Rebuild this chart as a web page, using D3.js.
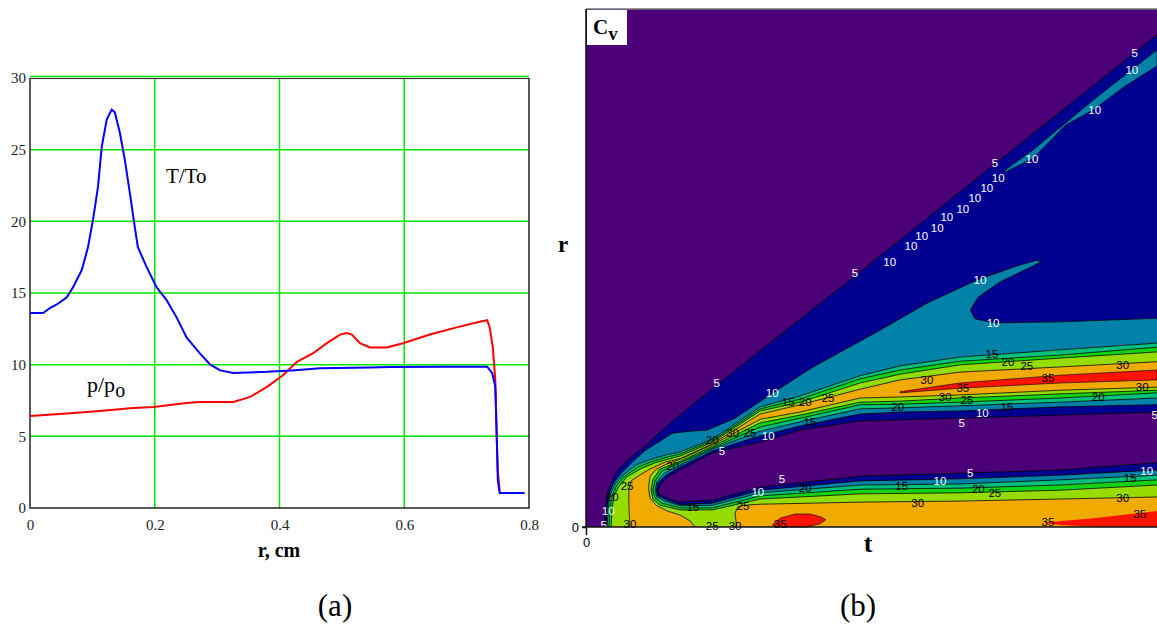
<!DOCTYPE html>
<html><head><meta charset="utf-8">
<script src="https://cdn.jsdelivr.net/npm/d3@7"></script>
<style>body{margin:0;background:#fff}svg{display:block}</style>
</head><body>
<svg id="c" width="1157" height="626"></svg>
<script>
// ================= Panel (a) data =================
const tempProfile = [[0,13.6],[0.021,13.6],[0.032,13.95],[0.043,14.2],[0.059,14.7],[0.069,15.4],[0.083,16.6],[0.093,18.2],[0.101,20.1],[0.109,22.4],[0.115,25.2],[0.123,27.1],[0.131,27.8],[0.136,27.6],[0.144,26.2],[0.152,24.3],[0.160,22.0],[0.168,19.6],[0.173,18.2],[0.187,16.8],[0.203,15.4],[0.219,14.5],[0.235,13.3],[0.251,11.9],[0.272,10.8],[0.289,10.0],[0.305,9.6],[0.326,9.42],[0.38,9.5],[0.42,9.6],[0.465,9.75],[0.545,9.8],[0.577,9.84],[0.662,9.86],[0.733,9.86],[0.741,9.4],[0.746,8.45],[0.748,5.4],[0.750,1.95],[0.753,1.05],[0.793,1.05]];
const presProfile = [[0,6.42],[0.059,6.6],[0.112,6.77],[0.165,6.97],[0.198,7.05],[0.251,7.33],[0.272,7.4],[0.326,7.4],[0.353,7.75],[0.38,8.45],[0.406,9.28],[0.428,10.2],[0.454,10.8],[0.476,11.5],[0.497,12.1],[0.508,12.2],[0.516,12.1],[0.529,11.5],[0.545,11.2],[0.572,11.2],[0.598,11.5],[0.641,12.1],[0.684,12.6],[0.721,13.0],[0.733,13.1],[0.737,12.6],[0.742,11.2],[0.746,8.9],[0.748,5.4],[0.750,2.6],[0.753,1.2]];
const yTicksA = [0,5,10,15,20,25,30];
const xTicksA = [0,0.2,0.4,0.6,0.8];

// ================= Panel (b) data: contour lines in (t, r) =================
const shock5 = [[3.2,0],[3.3,3.3],[3.7,6.2],[4.4,8.5],[5.4,10.8],[7.4,13.1],[10.3,15.6],[15.2,20.5],[22.9,27.4],[31.7,35.1],[47.5,48.8],[71.6,70.1],[100,95.0]];
const outer10 = [[3.5,0],[3.7,3.7],[4.0,6.2],[4.7,8.3],[6.0,10.2],[8.1,12.5],[10.3,14.7],[13.0,16.6],[15.1,18.1],[18.2,18.5],[21.2,18.7],[26.1,21.0],[32.2,25.5],[37.5,29.3],[39.8,30.9],[51.5,38.0],[59.7,43.2],[68.5,47.7],[76.0,50.6],[79.0,51.5],[79.7,51.2],[78.3,50.4],[72.5,47.3],[68.7,44.4],[67.3,41.9],[68.1,40.2],[71.6,39.4],[83.0,39.6],[100,40.3]];
const outer15 = [[3.7,0],[3.9,3.7],[4.2,6.2],[5.1,8.3],[6.5,10.0],[8.8,12.0],[11.4,13.1],[14.0,13.9],[16.5,14.5],[22.2,17.0],[30.5,23.2],[37.5,25.3],[48.0,29.2],[55.0,31.1],[65.5,32.8],[83.0,34.2],[100,35.5]];
const outer20 = [[4.0,0],[4.2,3.7],[4.6,6.0],[5.4,8.1],[6.8,9.8],[9.1,11.6],[11.7,12.7],[14.2,13.5],[16.5,14.1],[22.2,16.7],[30.5,22.8],[37.5,24.7],[48.0,28.6],[55.0,30.3],[65.5,32.0],[83.0,33.2],[100,34.7]];
const outer25 = [[4.4,0],[4.6,3.7],[4.9,6.0],[5.8,7.9],[7.2,9.7],[9.5,11.2],[12.1,12.4],[14.4,13.1],[16.5,13.7],[22.2,16.4],[30.5,22.4],[37.5,24.1],[48.0,27.8],[55.0,29.5],[65.5,31.3],[83.0,32.6],[100,33.8]];
const outer30 = [[7.7,0],[7.5,4.2],[7.5,7.1],[7.9,8.9],[9.1,9.8],[11.2,11.2],[13.8,12.5],[16.5,13.2],[22.2,16.1],[30.5,21.8],[37.5,23.6],[48.0,26.6],[55.0,28.4],[65.5,29.9],[83.0,30.9],[100,31.9]];
const inner30 = [[100,27.0],[83.0,26.4],[65.5,25.5],[55.0,25.1],[48.0,24.9],[37.5,22.2],[30.5,20.8],[22.2,15.9],[16.5,13.1],[13.8,12.0],[12.1,11.0],[11.2,9.7],[11.0,8.1],[11.0,7.1],[11.2,5.6],[12.3,4.2],[14.2,3.1],[16.5,2.3],[18.2,1.2],[19.1,0]];
const inner25 = [[100,26.4],[83.0,25.7],[65.5,24.9],[55.0,24.3],[48.0,24.1],[37.5,21.6],[30.5,20.1],[22.2,15.6],[16.5,12.7],[13.0,11.2],[11.7,9.1],[11.4,7.1],[11.7,5.4],[13.0,4.2],[16.5,3.3],[22.2,3.3],[30.5,5.4],[48.0,6.4],[65.5,6.6],[83.0,7.1],[100,8.1]];
const inner20 = [[100,25.9],[83.0,24.9],[65.5,24.1],[55.0,23.7],[48.0,23.6],[37.5,21.0],[30.5,19.3],[22.2,15.3],[16.5,12.4],[13.3,10.8],[12.1,8.9],[11.7,7.1],[12.1,5.6],[13.3,4.6],[16.5,3.7],[22.2,3.7],[30.5,6.0],[48.0,7.3],[65.5,7.5],[83.0,8.1],[100,9.1]];
const inner15 = [[100,24.9],[83.0,24.1],[65.5,23.4],[55.0,23.0],[48.0,22.8],[37.5,20.3],[30.5,18.5],[22.2,15.1],[16.5,12.0],[13.7,10.4],[12.4,8.7],[12.1,7.1],[12.4,5.8],[13.8,5.0],[16.5,4.1],[22.2,4.2],[30.5,6.6],[48.0,8.1],[65.5,8.3],[83.0,9.1],[100,10.0]];
const inner10 = [[100,23.6],[83.0,23.2],[65.5,22.4],[55.0,22.2],[48.0,21.8],[37.5,19.5],[30.5,17.6],[22.2,14.7],[16.5,11.6],[14.0,10.0],[12.6,8.5],[12.3,7.1],[12.6,6.0],[14.2,5.2],[16.5,4.3],[22.2,4.6],[30.5,7.1],[48.0,8.9],[65.5,9.3],[83.0,10.0],[100,11.0]];
const hole5 = [[100,22.2],[83.0,21.6],[65.5,21.0],[55.0,20.7],[48.0,20.5],[37.5,18.7],[30.5,16.4],[26.4,15.4],[22.2,14.3],[16.5,11.0],[14.4,9.7],[13.1,8.3],[12.6,7.1],[13.0,6.2],[14.7,5.4],[16.5,4.8],[22.2,5.2],[30.5,7.7],[48.0,9.8],[65.5,10.4],[83.0,11.0],[100,12.4]];
const lower30 = [[26.4,0],[26.1,2.7],[26.6,3.9],[27.8,4.2],[30.5,4.4],[48.0,4.8],[65.5,5.0],[83.0,5.4],[100,5.8]];
const redBand = [[55.0,26.1],[65.5,27.8],[83.0,29.3],[100,30.3],[100,28.4],[83.0,27.8],[65.5,26.8],[55.0,25.9]];
const redIsland1 = [[32.6,0.4],[34.0,1.7],[36.6,2.5],[39.2,2.5],[41.3,1.9],[42.0,1.4],[40.9,0.6],[38.4,0],[33.6,0]];
const redIsland2 = [[80.0,0.8],[88.8,1.7],[100,3.1],[100,0],[90.0,0],[83.0,0.4]];
const tealSliver = [[73.4,68.9],[78.3,72.8],[88.8,82.4],[100,92.1],[100,89.0],[94.5,85.2],[88.8,80.5],[84.0,77.6],[78.3,71.2],[73.4,68.5]];

const levelColors = ["#4b0078","#000090","#0082a8","#00c07e","#14d214","#96dc00","#f0aa00","#ff1400"];

const labelText = ["5","5","5","5","10","10","10","10","10","10","10","10","10","10","10","10","10","10","10","10","5","10","5","5","5","10","5","10","10","5","10",
 "15","20","25","15","30","35","30","25","20","15","15","20","25","30","35","30","20","20","25","15","30","20","15","30","35","35","35","25","30","30","25","20","15","25","20","30","25","20"];
const labelPos = [[47.1,49.0],[22.9,27.8],[71.6,70.3],[96.1,91.5],[95.6,88.2],[89.1,80.5],[78.1,71.0],[72.2,67.4],[70.2,65.4],[68.1,63.5],[66.0,61.4],[63.2,59.8],[61.5,57.7],[58.8,56.2],[56.9,54.2],[53.2,51.2],[69.0,47.7],[71.3,39.4],[32.6,25.9],[31.9,17.6],[23.8,14.7],[69.4,22.0],[65.8,20.1],[99.6,21.6],[34.3,9.3],[30.1,6.8],[67.3,10.4],[62.0,8.9],[98.2,10.8],[3.1,0.3],[3.9,3.0],
 [35.4,24.1],[38.4,24.1],[42.4,24.9],[39.2,20.3],[59.7,28.4],[66.0,26.8],[62.9,25.1],[66.7,24.5],[54.6,23.2],[73.7,23.2],[71.1,33.4],[73.9,31.9],[77.2,31.1],[94.0,31.3],[80.9,28.8],[97.4,27.0],[89.7,25.1],[68.7,7.3],[71.6,6.6],[55.3,7.9],[58.1,4.6],[38.4,7.5],[95.3,9.5],[94.0,5.6],[97.0,2.5],[80.9,1.0],[34.0,0.6],[22.1,0.2],[26.1,0.2],[7.7,0.6],[7.2,7.9],[4.6,5.8],[18.7,3.9],[27.5,4.1],[15.2,11.8],[25.7,18.1],[28.7,18.1],[22.1,16.8]];

// ================= Drawing =================
const svg = d3.select("#c");
svg.append("rect").attr("width",1157).attr("height",626).attr("fill","#fff");

// ---------- Panel (a) ----------
const xa = d3.scaleLinear().domain([0,0.8]).range([30,529]);
const ya = d3.scaleLinear().domain([0,30]).range([508,78]);
const ga = svg.append("g");
const green = "#00e600";
ga.selectAll("line.gy").data(yTicksA.filter(d=>d>0)).join("line")
  .attr("x1",xa(0)).attr("x2",xa(0.8)).attr("y1",d=>ya(d)-(d===30?1.5:0)).attr("y2",d=>ya(d)-(d===30?1.5:0))
  .attr("stroke",green).attr("stroke-width",1.5);
ga.selectAll("line.gx").data(xTicksA.filter(d=>d>0&&d<0.8)).join("line")
  .attr("x1",d=>xa(d)).attr("x2",d=>xa(d)).attr("y1",ya(0)).attr("y2",ya(30))
  .attr("stroke",green).attr("stroke-width",1.5);
ga.append("path").attr("d",`M${xa(0)},${ya(30)}V${ya(0)}H${xa(0.8)}V${ya(30)}`)
  .attr("fill","none").attr("stroke","#222").attr("stroke-width",1.5);
ga.append("line").attr("x1",xa(0)).attr("x2",xa(0.8)).attr("y1",ya(30)+0.5).attr("y2",ya(30)+0.5).attr("stroke","#333").attr("stroke-width",1.2);

const lineA = d3.line().x(d=>xa(d[0])).y(d=>ya(d[1]));
ga.append("path").datum(presProfile).attr("d",lineA).attr("fill","none").attr("stroke","#ff0000").attr("stroke-width",2);
ga.append("path").datum(tempProfile).attr("d",lineA).attr("fill","none").attr("stroke","#0000ff").attr("stroke-width",2);

const axA = ga.append("g").attr("transform",`translate(${xa(0)},0)`)
  .call(d3.axisLeft(ya).tickValues(yTicksA).tickSize(0).tickPadding(4));
const axB = ga.append("g").attr("transform",`translate(0,${ya(0)})`)
  .call(d3.axisBottom(xa).tickValues(xTicksA).tickSize(0).tickPadding(11).tickFormat(d=>d===0?"0":d3.format(".1f")(d)));
[axA,axB].forEach(a=>{a.select(".domain").remove();a.selectAll("text").attr("font-family","Liberation Serif").attr("font-size",15).attr("fill","#222");});

ga.append("text").attr("x",279).attr("y",557).attr("text-anchor","middle").attr("font-family","Liberation Serif").attr("font-weight","bold").attr("font-size",20).text("r, cm");
ga.append("text").attr("x",166).attr("y",183).attr("font-family","Liberation Serif").attr("font-size",21).text("T/To");
const pl = ga.append("text").attr("x",87).attr("y",392).attr("font-family","Liberation Serif").attr("font-size",22);
pl.append("tspan").text("p/p");
pl.append("tspan").attr("dy",5).attr("font-size",20).text("o");

// ---------- Panel (b) ----------
const X = d3.scaleLinear().domain([0,100]).range([586,1157]);
const Y = d3.scaleLinear().domain([0,100]).range([527,9]);
const gb = svg.append("g");
const lineB = d3.line().x(d=>X(d[0])).y(d=>Y(d[1]));
function region(outer, inner){
  let pts = outer.concat(inner);
  const last = pts[pts.length-1];
  if (last[1] !== 0) pts.push([100,0]);
  return pts;
}
gb.append("rect").attr("x",X(0)).attr("y",Y(100)).attr("width",X(100)-X(0)).attr("height",Y(0)-Y(100)).attr("fill",levelColors[0]);
const regions = [
  [region(shock5, hole5), 1],
  [region(outer10, inner10), 2],
  [tealSliver, 2],
  [region(outer15, inner15), 3],
  [region(outer20, inner20), 4],
  [region(outer25, inner25), 5],
  [region(outer30, inner30), 6],
  [region(lower30, []), 6],
  [redBand, 7],[redIsland1, 7],[redIsland2, 7]
];
gb.selectAll("path.reg").data(regions).join("path").attr("class","reg")
  .attr("d",d=>lineB(d[0])+"Z").attr("fill",d=>levelColors[d[1]]);
const strokes = [shock5,outer10,outer15,outer20,outer25,outer30,inner30,inner25,inner20,inner15,inner10,hole5,lower30];
gb.selectAll("path.ln").data(strokes).join("path").attr("class","ln").attr("d",lineB)
  .attr("fill","none").attr("stroke","#000").attr("stroke-width",0.9).attr("stroke-opacity",0.85);
gb.selectAll("path.cl").data([redBand,redIsland1,tealSliver]).join("path").attr("class","cl").attr("d",d=>lineB(d)+"Z")
  .attr("fill","none").attr("stroke","#000").attr("stroke-width",0.8).attr("stroke-opacity",0.8);

gb.selectAll("text.lab").data(labelText.map((t,i)=>({t,p:labelPos[i]}))).join("text").attr("class","lab")
  .attr("x",d=>X(d.p[0])).attr("y",d=>Y(d.p[1])).attr("dy","0.35em").attr("text-anchor","middle")
  .attr("font-family","Liberation Sans").attr("font-size",11.5)
  .attr("fill",d=>(+d.t<=10)?"#ffffff":"#000000").text(d=>d.t);

// frame and axes
gb.append("line").attr("x1",X(0)).attr("x2",X(100)).attr("y1",Y(100)).attr("y2",Y(100)).attr("stroke","#777").attr("stroke-width",1.5);
const axL = gb.append("g").attr("transform",`translate(${X(0)},0)`).call(d3.axisLeft(Y).tickValues([0]).tickSize(4).tickPadding(3));
const axBt = gb.append("g").attr("transform",`translate(0,${Y(0)})`).call(d3.axisBottom(X).tickValues([0]).tickSize(8).tickPadding(3));
[axL,axBt].forEach(a=>{a.selectAll("text").attr("font-family","Liberation Sans").attr("font-size",13).attr("fill","#000");a.selectAll("path,line").attr("stroke","#111").attr("stroke-width",1.5);});
axBt.select(".domain").attr("d",`M${X(0)-4},0H${X(100)}`);
axL.select(".domain").attr("d",`M0,${Y(100)}V${Y(0)}`);

gb.append("rect").attr("x",X(0)+1).attr("y",Y(100)+1).attr("width",40).attr("height",35).attr("fill","#fff");
const cv = gb.append("text").attr("x",X(0)+7).attr("y",Y(100)+25).attr("font-family","Liberation Serif").attr("font-weight","bold").attr("font-size",21);
cv.append("tspan").text("C");
cv.append("tspan").attr("dy",6).attr("font-size",19).text("v");
gb.append("text").attr("x",563).attr("y",252).attr("text-anchor","middle").attr("font-family","Liberation Serif").attr("font-weight","bold").attr("font-size",23).text("r");
gb.append("text").attr("x",868).attr("y",552).attr("text-anchor","middle").attr("font-family","Liberation Serif").attr("font-weight","bold").attr("font-size",26).text("t");

// panel captions
svg.append("text").attr("x",335).attr("y",616).attr("text-anchor","middle").attr("font-family","Liberation Serif").attr("font-size",31).text("(a)");
svg.append("text").attr("x",858).attr("y",616).attr("text-anchor","middle").attr("font-family","Liberation Serif").attr("font-size",31).text("(b)");
</script>
</body></html>
